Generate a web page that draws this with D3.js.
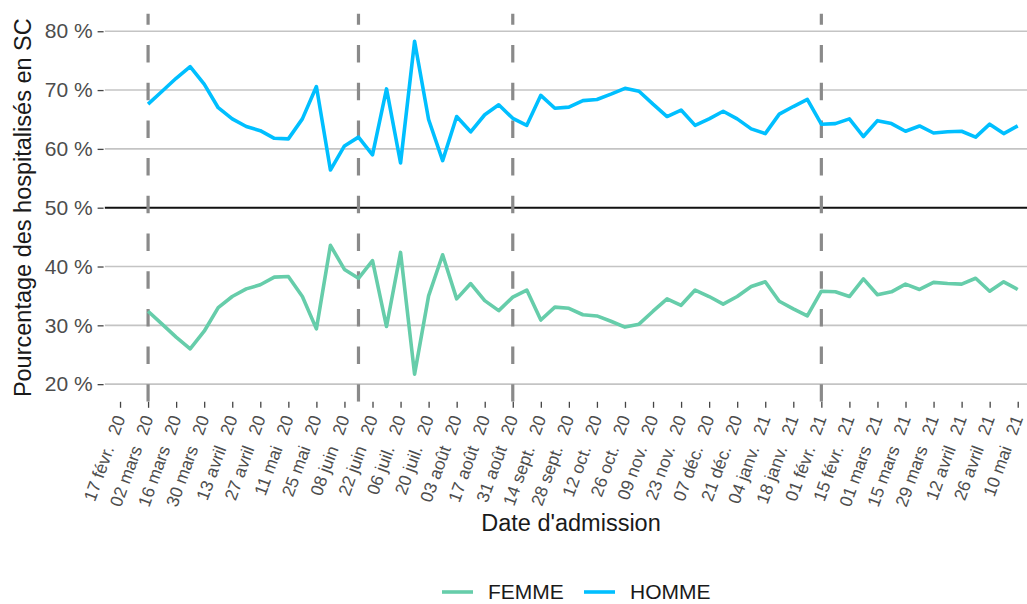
<!DOCTYPE html>
<html>
<head>
<meta charset="utf-8">
<script src="https://cdn.jsdelivr.net/npm/d3@7"></script>
<style>
  html, body { margin: 0; padding: 0; background: #ffffff; }
  svg { display: block; font-family: "Liberation Sans", Arial, sans-serif; }
</style>
</head>
<body>
<svg id="chart" width="1027" height="604"></svg>
<script>
// ---------------- DATA ----------------
const dates = [
  "2020-03-02","2020-03-09","2020-03-16","2020-03-23","2020-03-30",
  "2020-04-06","2020-04-13","2020-04-20","2020-04-27",
  "2020-05-04","2020-05-11","2020-05-18","2020-05-25",
  "2020-06-01","2020-06-08","2020-06-15","2020-06-22","2020-06-29",
  "2020-07-06","2020-07-13","2020-07-20","2020-07-27",
  "2020-08-03","2020-08-10","2020-08-17","2020-08-24","2020-08-31",
  "2020-09-07","2020-09-14","2020-09-21","2020-09-28",
  "2020-10-05","2020-10-12","2020-10-19","2020-10-26",
  "2020-11-02","2020-11-09","2020-11-16","2020-11-23","2020-11-30",
  "2020-12-07","2020-12-14","2020-12-21","2020-12-28",
  "2021-01-04","2021-01-11","2021-01-18","2021-01-25",
  "2021-02-01","2021-02-08","2021-02-15","2021-02-22",
  "2021-03-01","2021-03-08","2021-03-15","2021-03-22","2021-03-29",
  "2021-04-05","2021-04-12","2021-04-19","2021-04-26",
  "2021-05-03","2021-05-10"
];
const homme = [
  67.6, 69.8, 72.0, 74.0, 71.0,
  67.0, 65.1, 63.8, 63.1,
  61.8, 61.7, 65.1, 70.6,
  56.4, 60.5, 62.0, 59.0, 70.2,
  57.6, 78.3, 65.0, 58.0,
  65.5, 62.9, 65.8, 67.5, 65.2,
  64.0, 69.1, 66.9, 67.1,
  68.2, 68.4, 69.3, 70.3,
  69.8, 67.6, 65.5, 66.6, 64.0,
  65.1, 66.4, 65.1, 63.4,
  62.6, 65.9, 67.2, 68.4,
  64.2, 64.3, 65.1, 62.1,
  64.8, 64.3, 63.0, 63.9, 62.7,
  62.9, 63.0, 62.0, 64.2,
  62.6, 63.9
];
const femme = [
  32.4, 30.2, 28.0, 26.0, 29.0,
  33.0, 34.9, 36.2, 36.9,
  38.2, 38.3, 34.9, 29.4,
  43.6, 39.5, 38.0, 41.0, 29.8,
  42.4, 21.7, 35.0, 42.0,
  34.5, 37.1, 34.2, 32.5, 34.8,
  36.0, 30.9, 33.1, 32.9,
  31.8, 31.6, 30.7, 29.7,
  30.2, 32.4, 34.5, 33.4, 36.0,
  34.9, 33.6, 34.9, 36.6,
  37.4, 34.1, 32.8, 31.6,
  35.8, 35.7, 34.9, 37.9,
  35.2, 35.7, 37.0, 36.1, 37.3,
  37.1, 37.0, 38.0, 35.8,
  37.4, 36.1
];
const seriesNames = ["FEMME", "HOMME"];
const seriesColors = ["#66CDAA", "#00BFFF"];
const vlineDates = ["2020-03-02", "2020-06-15", "2020-08-31", "2021-02-01"];
const yTicks = [20, 30, 40, 50, 60, 70, 80];
const xTickStart = "2020-02-17";
const xTickEnd = "2021-05-10";
const frMonths = ["janv.", "févr.", "mars", "avril", "mai", "juin",
                  "juil.", "août", "sept.", "oct.", "nov.", "déc."];
const yTitle = "Pourcentage des hospitalisés en SC";
const xTitle = "Date d'admission";

// ---------------- SETUP ----------------
const parse = d3.timeParse("%Y-%m-%d");
const fr = d3.timeFormatLocale({
  dateTime: "%A %e %B %Y à %X", date: "%d/%m/%Y", time: "%H:%M:%S",
  periods: ["AM", "PM"],
  days: ["dimanche","lundi","mardi","mercredi","jeudi","vendredi","samedi"],
  shortDays: ["dim.","lun.","mar.","mer.","jeu.","ven.","sam."],
  months: ["janvier","février","mars","avril","mai","juin","juillet","août","septembre","octobre","novembre","décembre"],
  shortMonths: frMonths
});
const fmtDay = fr.format("%d %b");
const fmtYear = fr.format("%y");

const svg = d3.select("#chart");
const W = 1027, H = 604;
const panel = { left: 104.6, right: 1061.2, top: 13.6, bottom: 401.8 };

const dts = dates.map(parse);
const span = (dts[dts.length - 1] - dts[0]);
const x = d3.scaleTime()
  .domain([new Date(+dts[0] - span * 0.05), new Date(+dts[dts.length - 1] + span * 0.05)])
  .range([panel.left, panel.right]);
const y = d3.scaleLinear().domain([17, 83]).range([panel.bottom, panel.top]);

const tickDates = d3.timeDay.range(parse(xTickStart), d3.timeDay.offset(parse(xTickEnd), 1), 14);

// clip
svg.append("defs").append("clipPath").attr("id", "clip")
  .append("rect").attr("x", panel.left).attr("y", panel.top)
  .attr("width", W - panel.left).attr("height", panel.bottom - panel.top);

const gPanel = svg.append("g").attr("clip-path", "url(#clip)");

// horizontal gridlines
gPanel.selectAll("line.grid").data(yTicks.filter(t => t !== 50)).enter()
  .append("line").attr("class", "grid")
  .attr("x1", panel.left).attr("x2", W)
  .attr("y1", d => y(d)).attr("y2", d => y(d))
  .attr("stroke", "#c4c4c4").attr("stroke-width", 1.6);

// 50% line
gPanel.append("line")
  .attr("x1", panel.left).attr("x2", W)
  .attr("y1", y(50)).attr("y2", y(50))
  .attr("stroke", "#111").attr("stroke-width", 2);

// dashed vertical lines (drawn from bottom to top)
gPanel.selectAll("line.vl").data(vlineDates.map(parse)).enter()
  .append("line").attr("class", "vl")
  .attr("x1", d => x(d)).attr("x2", d => x(d))
  .attr("y1", panel.bottom).attr("y2", panel.top)
  .attr("stroke", "#8a8a8a").attr("stroke-width", 3.2)
  .attr("stroke-dasharray", "17.5,20.2");

// series lines
const series = [femme, homme];
const line = d3.line().x(d => x(d[0])).y(d => y(d[1]));
series.forEach((vals, i) => {
  gPanel.append("path")
    .datum(dts.map((d, j) => [d, vals[j]]))
    .attr("d", line)
    .attr("fill", "none")
    .attr("stroke", seriesColors[i])
    .attr("stroke-width", 3.6)
    .attr("stroke-linejoin", "round");
});

// y axis
const yAxis = svg.append("g")
  .attr("transform", `translate(${panel.left - 1},0)`)
  .call(d3.axisLeft(y).tickValues(yTicks).tickSize(6).tickPadding(5)
    .tickFormat(d => d + "\u00a0%"));
yAxis.select(".domain").remove();
yAxis.selectAll(".tick line").attr("stroke", "#444").attr("stroke-width", 1.3);
yAxis.selectAll(".tick text").attr("fill", "#4d4d4d")
  .style("font-size", "21px").style("font-family", "Liberation Sans, Arial, sans-serif");

// x axis
const xAxis = svg.append("g")
  .attr("transform", `translate(0,${panel.bottom})`)
  .call(d3.axisBottom(x).tickValues(tickDates).tickSize(6).tickFormat(""));
xAxis.select(".domain").remove();
xAxis.selectAll(".tick line").attr("stroke", "#444").attr("stroke-width", 1.3);

const xLab = svg.append("g");
tickDates.forEach(d => {
  const t = xLab.append("text")
    .attr("transform", `translate(${x(d) + 5.5},${418}) rotate(-70)`)
    .attr("text-anchor", "end")
    .attr("fill", "#4d4d4d")
    .style("font-size", "17.5px");
  t.append("tspan").text(fmtDay(d));
  t.append("tspan").attr("dx", 13).text(fmtYear(d));
});

// axis titles
svg.append("text")
  .attr("x", 571).attr("y", 531)
  .attr("text-anchor", "middle").attr("fill", "#1a1a1a")
  .style("font-size", "23.5px").text(xTitle);

svg.append("text")
  .attr("transform", `translate(31,${(panel.top + panel.bottom) / 2}) rotate(-90)`)
  .attr("text-anchor", "middle").attr("fill", "#1a1a1a")
  .style("font-size", "23.5px").text(yTitle);

// legend
const legendItems = [
  { name: seriesNames[0], color: seriesColors[0], x: 442 },
  { name: seriesNames[1], color: seriesColors[1], x: 584 }
];
const lg = svg.append("g");
legendItems.forEach(it => {
  lg.append("line").attr("x1", it.x).attr("x2", it.x + 31)
    .attr("y1", 592).attr("y2", 592)
    .attr("stroke", it.color).attr("stroke-width", 3.6);
  lg.append("text").attr("x", it.x + 46).attr("y", 598.5)
    .attr("fill", "#1a1a1a").style("font-size", "21px").text(it.name);
});
</script>
</body>
</html>
